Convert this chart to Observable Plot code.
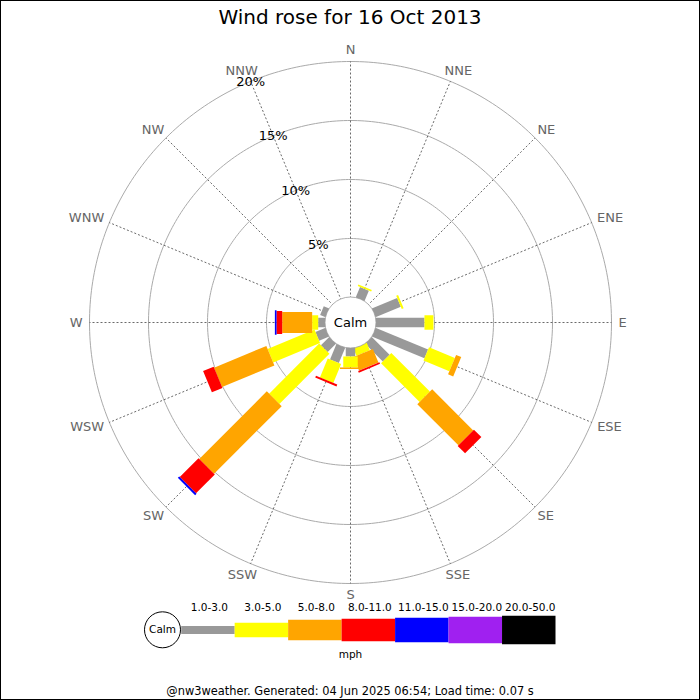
<!DOCTYPE html>
<html><head><meta charset="utf-8">
<script src="https://cdn.jsdelivr.net/npm/d3@7"></script>
<script src="https://cdn.jsdelivr.net/npm/@observablehq/plot@0.6"></script>
<style>
body{margin:0;background:#fff;}
#wrap{position:relative;width:700px;height:700px;overflow:hidden;font-family:"DejaVu Sans",sans-serif;background:#fff;}
#title{position:absolute;left:0;top:0;width:700px;height:34px;line-height:34px;text-align:center;font-size:20px;color:#000;}
#rose{position:absolute;left:0;top:34px;}
#legend{position:absolute;left:0;top:598px;}
#caption{position:absolute;left:0;top:684px;width:700px;height:15px;line-height:15px;text-align:center;font-size:11.4px;color:#000;}
#frame{position:absolute;left:0;top:0;width:700px;height:700px;box-sizing:border-box;border:1px solid #000;pointer-events:none;}
</style></head>
<body><div id="wrap">
<div id="title">Wind rose for 16 Oct 2013</div>
<div id="rose"></div>
<div id="legend"></div>
<div id="caption">@nw3weather. Generated: 04 Jun 2025 06:54; Load time: 0.07 s</div>
<div id="frame"></div>
</div>
<script>
// ---- data ----
const directions = ["N","NNE","NE","ENE","E","ESE","SE","SSE","S","SSW","SW","WSW","W","WNW","NW","NNW"];
const speedClasses = ["1.0-3.0","3.0-5.0","5.0-8.0","8.0-11.0","11.0-15.0","15.0-20.0","20.0-50.0"];
const speedUnit = "mph";
const calmLabel = "Calm";
const ringTicks = [5, 10, 15, 20];
const ringLabels = ["5%", "10%", "15%", "20%"];
// percentage of time per direction (N ... NNW) for each speed class
const freq1to3   = [0, 0.97, 0, 2.33, 4.15, 4.83, 2.16, 0,    0.76, 1.44, 1.02, 0.93, 0.62, 0.5, 0, 0];
const freq3to5   = [0, 0.15, 0, 0.17, 0.76, 2.37, 4.62, 0.68, 0.93, 1.73, 6.0,  4.3,  0.51, 0,   0, 0];
const freq5to8   = [0, 0,    0, 0,    0,    0.47, 4.92, 1.24, 0.13, 0,    8.1,  4.8,  2.54, 0,   0, 0];
const freq8to11  = [0, 0,    0, 0,    0,    0,    0.89, 0.16, 0,    0.17, 2.25, 0.97, 0.48, 0,   0, 0];
const freq11to15 = [0, 0,    0, 0,    0,    0,    0,    0,    0,    0,    0.17, 0,    0.14, 0,   0, 0];
const freq15to20 = [0, 0,    0, 0,    0,    0,    0,    0,    0,    0,    0,    0,    0,    0,   0, 0];
const freq20to50 = [0, 0,    0, 0,    0,    0,    0,    0,    0,    0,    0,    0,    0,    0,   0, 0];
const series = [freq1to3, freq3to5, freq5to8, freq8to11, freq11to15, freq15to20, freq20to50];

// ---- styles ----
const classColors = ["#999999","#ffff00","#ffa500","#ff0000","#0000ff","#a020f0","#000000"];
const roseWidths = [9.5, 14.5, 21, 23, 24.5, 27, 28.5];
const legendWidths = [8, 14.3, 20.3, 22.7, 24.3, 26.7, 28.3];
const K = 11.8;          // pixels per percent
const calmPx = 25;       // calm circle radius, px
const off = calmPx / K;  // calm radius in percent units
const labelGapPx = 268;  // distance from centre to the near edge of direction labels
const dirFont = 13;
const rad = i => i * 22.5 * Math.PI / 180;

// measure label widths so each label box sits just outside the rose
const ctx = document.createElement("canvas").getContext("2d");
ctx.font = `${dirFont}px "DejaVu Sans"`;
const labelPos = directions.map((d, i) => {
  const w = ctx.measureText(d).width, h = dirFont * 0.73;
  const s = Math.sin(rad(i)), c = Math.cos(rad(i));
  return {d, x: (labelGapPx * s + (w / 2) * s) / K, y: (labelGapPx * c + (h / 2) * c) / K};
});

// ---- derived geometry from data ----
const segs = [];
directions.forEach((dir, i) => {
  let cum = 0;
  series.forEach((vals, c) => {
    const v = vals[i];
    if (v > 0) segs.push({dir, i, c, r1: cum, r2: cum + v});
    cum += v;
  });
});
const ringPts = [];
ringTicks.forEach(t => { for (let a = 0; a < 360; a += 1) ringPts.push({t, a: a * Math.PI / 180}); });
const nnw = rad(directions.indexOf("NNW"));

const W = 700, H = 566, CX = 350, CY = 288;
const font = "font-family:'DejaVu Sans',sans-serif;background:transparent;overflow:visible;";

const rose = Plot.plot({
  width: W, height: H, margin: 0,
  style: font,
  x: {domain: [-CX / K, (W - CX) / K], range: [0, W], axis: null},
  y: {domain: [-(H - CY) / K, CY / K], range: [H, 0], axis: null},
  color: {type: "identity"},
  marks: [
    Plot.line(ringPts, {x: d => (off + d.t) * Math.sin(d.a), y: d => (off + d.t) * Math.cos(d.a), z: "t", curve: "linear-closed", stroke: "#aaaaaa", strokeWidth: 1}),
    Plot.link(directions, {x1: 0, y1: 0, x2: (d, i) => (off + 20) * Math.sin(rad(i)), y2: (d, i) => (off + 20) * Math.cos(rad(i)), stroke: "#444", strokeWidth: 0.8, strokeDasharray: "2,2"}),
    Plot.link(segs, {
      x1: d => (off + d.r1) * Math.sin(rad(d.i)), y1: d => (off + d.r1) * Math.cos(rad(d.i)),
      x2: d => (off + d.r2) * Math.sin(rad(d.i)), y2: d => (off + d.r2) * Math.cos(rad(d.i)),
      stroke: d => classColors[d.c], strokeWidth: d => roseWidths[d.c], strokeLinecap: "butt"
    }),
    Plot.dot([calmLabel], {x: 0, y: 0, r: calmPx + 0.5, fill: "white", stroke: "#999", strokeWidth: 0.8}),
    Plot.text([calmLabel], {x: 0, y: 0, text: d => d, fontSize: 13, fill: "#000"}),
    Plot.text(labelPos, {x: "x", y: "y", text: "d", fontSize: dirFont, fill: "#666"}),
    Plot.text(ringTicks, {x: d => (off + d) * Math.sin(nnw), y: d => (off + d) * Math.cos(nnw), text: (d, i) => ringLabels[i], fontSize: 13, fill: "#000"})
  ]
});
document.getElementById("rose").appendChild(rose);

const legend = Plot.plot({
  width: W, height: 66, margin: 0,
  style: font,
  x: {domain: [0, speedClasses.length], range: [180.7, 555], axis: null},
  y: {domain: [0, 66], range: [0, 66], axis: null},
  color: {type: "identity"},
  marks: [
    Plot.link(speedClasses, {x1: (d, i) => i, x2: (d, i) => i + 1, y1: 31.5, y2: 31.5, stroke: (d, i) => classColors[i], strokeWidth: (d, i) => legendWidths[i]}),
    Plot.dot([calmLabel], {x: 0, y: 31.3, dx: -18.7, r: 18, fill: "white", stroke: "#000", strokeWidth: 1}),
    Plot.text([calmLabel], {x: 0, y: 31.3, dx: -18.7, text: d => d, fontSize: 10.5, fill: "#000"}),
    Plot.text(speedClasses, {x: (d, i) => i + 0.5, y: 9.6, dx: 1.5, text: d => d, fontSize: 10.5, fill: "#000"}),
    Plot.text([speedUnit], {frameAnchor: "middle", y: 56.3, text: d => d, fontSize: 10.5, fill: "#000"})
  ]
});
document.getElementById("legend").appendChild(legend);
</script>
</body></html>
